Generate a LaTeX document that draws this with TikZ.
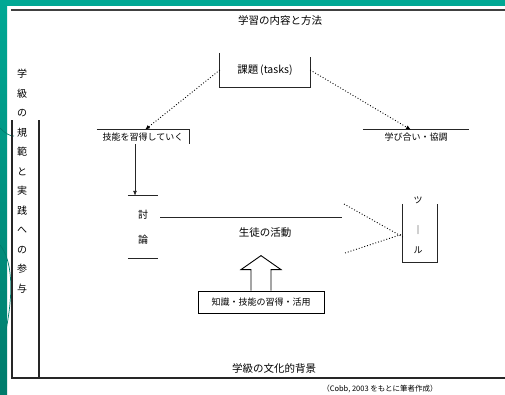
\documentclass[tikz,border=0pt]{standalone}
\usepackage{fontspec}
\newfontfamily\jp{Noto Sans CJK JP}
\usetikzlibrary{arrows.meta}
\definecolor{teal1}{HTML}{00A894}
\definecolor{teal2}{HTML}{007C6C}
\begin{document}
\begin{tikzpicture}[x=1pt,y=-1pt,
  lbl/.style={font=\jp\fontsize{10.5}{11}\selectfont, inner sep=1pt},
  small/.style={font=\jp\fontsize{9}{10}\selectfont, inner sep=1pt},
  rule/.style={line width=0.8pt, black!85},
  heavy/.style={line width=1.4pt, black!85},
  dotarrow/.style={dotted, line width=0.9pt, -{Latex[length=5pt,width=4pt]}},
  dotline/.style={dotted, line width=0.9pt}]
\useasboundingbox (0,0) rectangle (505,394);
% background decoration
\fill[white] (0,0) rectangle (505,394);
\fill[teal1] (0,0) rectangle (505,6);
\shade[top color=teal1, bottom color=teal2] (0,0) rectangle (7,394);
\draw[teal2, line width=0.7pt] (0,128) .. controls (6,134) and (10,136) .. (14,136);
\draw[teal2, line width=0.7pt] (0,245) .. controls (12,260) and (14,290) .. (6,330);
% frame
\draw[line width=1.6pt, black!75] (11,10) -- (505,10);
\draw[heavy] (12,120) -- (12,378) -- (505,378);
\draw[heavy] (39,120) -- (39,378);
% title
\node[lbl] (title) at (280,21) {学習の内容と方法};
% left vertical label
\node[lbl, align=center, font=\jp\fontsize{10}{19.5}\selectfont] (side) at (22,181)
  {学\\級\\の\\規\\範\\と\\実\\践\\へ\\の\\参\\与};
% tasks box
\node[lbl, minimum width=90pt, minimum height=34pt] (task) at (265,70) {課題\,(tasks)};
\draw[rule] (task.north west) -- (task.south west) -- (task.south east) -- ([yshift=-4pt]task.north east);
% left item
\node[small, minimum width=92pt, minimum height=14pt] (left) at (143,137) {技能を習得していく};
\draw[rule] (left.north west) -- (left.north east) -- (left.south east);
% right item
\node[small, minimum width=106pt, minimum height=14pt] (right) at (416,137) {学び合い・協調};
\draw[rule] (right.north west) -- (right.north east);
% dotted arrows from tasks
\draw[dotarrow] (task.west) -- ([xshift=2pt]left.north);
\draw[dotarrow] (task.east) -- ([xshift=-5pt]right.north);
% discussion
\node[lbl, align=center, font=\jp\fontsize{10}{25}\selectfont, minimum width=30pt, minimum height=62pt] (disc) at (143,227) {討\\論};
\draw[rule] (disc.north west) -- (disc.north east);
\draw[rule] (disc.south west) -- (disc.south east);
\draw[rule, -{Latex[length=5pt,width=4pt]}] ([xshift=-8pt]left.south) -- ([xshift=-8pt]disc.north);
% activity line
\coordinate (actend) at (342,217);
\draw[rule] (disc.north east |- actend) ++(2pt,0) coordinate (actstart) -- (actend);
\node[lbl] (act) at (265,233) {生徒の活動};
% tool box
\node[minimum width=34pt, minimum height=58pt] (tool) at (420,233) {};
\draw[rule] (tool.north west) -- (tool.south west) -- (tool.south east) -- (tool.north east);
\node[small] (t1) at (418,200) {ツ};
\node[small] (t2) at (418,230) {｜};
\node[small] (t3) at (418,250) {ル};
\draw[dotline] (344,204) coordinate (d1) -- ([yshift=-4pt]tool.west);
\draw[dotline] (345,253) coordinate (d2) -- ([yshift=-1pt]tool.west);
% bottom box
\node[small, draw, line width=0.8pt, minimum width=126pt, minimum height=22pt] (know) at (261,302) {知識・技能の習得・活用};
% hollow arrow
\draw[line width=0.9pt] ([xshift=-10pt]know.north) -- ++(0,-21) -- ++(-10,0) -- ++(20,-14) -- ++(20,14) -- ++(-10,0) -- ++(0,21);
% culture
\node[lbl] (cult) at (274,368) {学級の文化的背景};
\node[small, font=\jp\fontsize{7.5}{8}\selectfont] (cap) at (380,389) {（Cobb, 2003 をもとに筆者作成）};
\end{tikzpicture}
\end{document}
